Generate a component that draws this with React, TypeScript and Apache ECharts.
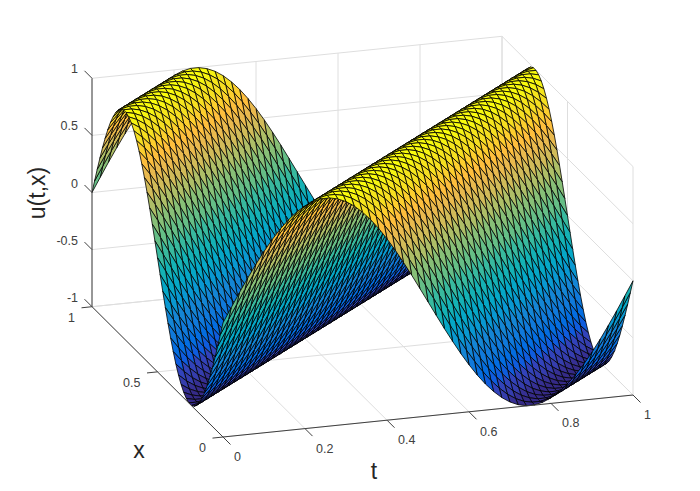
import React, { useEffect, useRef } from "react";
import * as echarts from "echarts";

// One period of the surface height, read along the diagonal of the mesh (one value per mesh step of t - x).
const waveProfile = [
  0, 0.125, 0.249, 0.368, 0.482, 0.588, 0.685, 0.771, 0.844, 0.905,
  0.951, 0.982, 0.998, 0.998, 0.982, 0.951, 0.905, 0.844, 0.771, 0.685,
  0.588, 0.482, 0.368, 0.249, 0.125,
  0, -0.125, -0.249, -0.368, -0.482, -0.588, -0.685, -0.771, -0.844, -0.905,
  -0.951, -0.982, -0.998, -0.998, -0.982, -0.951, -0.905, -0.844, -0.771, -0.685,
  -0.588, -0.482, -0.368, -0.249, -0.125,
];
const tTicks = [0, 0.2, 0.4, 0.6, 0.8, 1];
const xTicks = [0, 0.5, 1];
const uTicks = [-1, -0.5, 0, 0.5, 1];
const tTickLabels = ["0", "0.2", "0.4", "0.6", "0.8", "1"];
const xTickLabels = ["0", "0.5", "1"];
const uTickLabels = ["-1", "-0.5", "0", "0.5", "1"];

const parula = [
  [0.2081,0.1663,0.5292],[0.2116,0.1898,0.5777],[0.2123,0.2138,0.627],[0.2081,0.2386,0.6771],
  [0.1959,0.2645,0.7279],[0.1707,0.2919,0.7792],[0.1253,0.3242,0.8303],[0.0591,0.3598,0.8683],
  [0.0117,0.3875,0.882],[0.006,0.4086,0.8828],[0.0165,0.4266,0.8786],[0.0329,0.443,0.872],
  [0.0498,0.4586,0.8641],[0.0629,0.4737,0.8554],[0.0723,0.4887,0.8467],[0.0779,0.504,0.8384],
  [0.0793,0.52,0.8312],[0.0749,0.5375,0.8263],[0.0641,0.557,0.824],[0.0488,0.5772,0.8228],
  [0.0343,0.5966,0.8199],[0.0265,0.6137,0.8135],[0.0239,0.6287,0.8038],[0.0231,0.6418,0.7913],
  [0.0228,0.6535,0.7768],[0.0267,0.6642,0.7607],[0.0384,0.6743,0.7436],[0.059,0.6838,0.7254],
  [0.0843,0.6928,0.7062],[0.1133,0.7015,0.6859],[0.1453,0.7098,0.6646],[0.1801,0.7177,0.6424],
  [0.2178,0.725,0.6193],[0.2586,0.7317,0.5954],[0.3022,0.7376,0.5712],[0.3482,0.7424,0.5473],
  [0.3953,0.7459,0.5244],[0.442,0.7481,0.5033],[0.4871,0.7491,0.484],[0.53,0.7491,0.4661],
  [0.5709,0.7485,0.4494],[0.6099,0.7473,0.4337],[0.6473,0.7456,0.4188],[0.6834,0.7435,0.4044],
  [0.7184,0.7411,0.3905],[0.7525,0.7384,0.3768],[0.7858,0.7356,0.3633],[0.8185,0.7327,0.3498],
  [0.8507,0.7299,0.336],[0.8824,0.7274,0.3217],[0.9139,0.7258,0.3063],[0.945,0.7261,0.2886],
  [0.9739,0.7314,0.2666],[0.9938,0.7455,0.2403],[0.999,0.7653,0.2164],[0.9955,0.7861,0.1967],
  [0.988,0.8066,0.1794],[0.9789,0.8271,0.1633],[0.9697,0.8481,0.1475],[0.9626,0.8705,0.1309],
  [0.9589,0.8949,0.1132],[0.9598,0.9218,0.0948],[0.9661,0.9514,0.0755],[0.9763,0.9831,0.0538],
];

const N = waveProfile.length;
const heightAt = (i: number, j: number) => waveProfile[(((i - j) % N) + N) % N];
const colorOf = (u: number) => {
  const k = Math.min(63, Math.max(0, Math.floor(((u + 1) / 2) * 64)));
  const c = parula[k];
  return `rgb(${Math.round(c[0] * 255)},${Math.round(c[1] * 255)},${Math.round(c[2] * 255)})`;
};

// Orthographic view of the plot box: t, x and u onto the page.
const project = (t: number, x: number, u: number): [number, number] => [
  223 + 410 * t - 131 * x,
  437 - 42 * t - 130.3 * x - (u + 1) * 114.2,
];

const GRID_COLOR = "#dedede";
const AXIS_COLOR = "#404040";
const TEXT_COLOR = "#404040";
const FONT = '"Liberation Sans", Arial, sans-serif';

type Seg = [number, number, number, number, number, number];

const gridSegs: Seg[] = [];
tTicks.forEach((t) => {
  gridSegs.push([t, 0, -1, t, 1, -1]);
  gridSegs.push([t, 1, -1, t, 1, 1]);
});
xTicks.forEach((x) => {
  gridSegs.push([0, x, -1, 1, x, -1]);
  gridSegs.push([1, x, -1, 1, x, 1]);
});
uTicks.forEach((u) => {
  gridSegs.push([0, 1, u, 1, 1, u]);
  gridSegs.push([1, 1, u, 1, 0, u]);
});

const surfaceCells: [number, number][] = [];
for (let j = N - 1; j >= 0; j--) {
  for (let i = N - 1; i >= 0; i--) surfaceCells.push([i, j]);
}

type Lab = { text: string; at: [number, number]; dx: number; dy: number; align: string };
const tickLines: number[][] = [];
const tickTexts: Lab[] = [];
tTicks.forEach((t, k) => {
  const p = project(t, 0, -1);
  tickLines.push([p[0], p[1], p[0] + 7.5, p[1] + 7.5]);
  tickTexts.push({ text: tTickLabels[k], at: p, dx: 11, dy: 20, align: "left" });
});
xTicks.forEach((x, k) => {
  const p = project(0, x, -1);
  tickLines.push([p[0], p[1], p[0] - 10.5, p[1] + 1.1]);
  tickTexts.push({ text: xTickLabels[k], at: p, dx: -17, dy: 11, align: "right" });
});
uTicks.forEach((u, k) => {
  const p = project(0, 1, u);
  tickLines.push([p[0], p[1], p[0] - 7.5, p[1] - 7.5]);
  tickTexts.push({ text: uTickLabels[k], at: p, dx: -14, dy: -9, align: "right" });
});
const axisSegs: Seg[] = [
  [0, 0, -1, 1, 0, -1],
  [0, 0, -1, 0, 1, -1],
  [0, 1, -1, 0, 1, 1],
];

export default function App() {
  const ref = useRef<HTMLDivElement>(null);
  useEffect(() => {
    const chart = echarts.init(ref.current!, null, { renderer: "svg" });
    const segItem = (color: string, width: number) => (_: any, api: any) => {
      const a = api.coord(project(api.value(0), api.value(1), api.value(2)));
      const b = api.coord(project(api.value(3), api.value(4), api.value(5)));
      return {
        type: "line",
        shape: { x1: a[0], y1: a[1], x2: b[0], y2: b[1] },
        style: { stroke: color, lineWidth: width, fill: "none" },
        silent: true,
      };
    };
    chart.setOption({
      animation: false,
      backgroundColor: "#ffffff",
      grid: { left: 0, right: 0, top: 0, bottom: 0 },
      xAxis: { type: "value", min: 0, max: 700, show: false },
      yAxis: { type: "value", min: 0, max: 491, inverse: true, show: false },
      graphic: [
        { type: "text", x: 139, y: 450, style: { text: "x", font: `23px ${FONT}`, fill: "#262626", align: "center", verticalAlign: "middle" } },
        { type: "text", x: 374, y: 471, style: { text: "t", font: `23px ${FONT}`, fill: "#262626", align: "center", verticalAlign: "middle" } },
        { type: "text", x: 37, y: 193, rotation: Math.PI / 2, style: { text: "u(t,x)", font: `23px ${FONT}`, fill: "#262626", align: "center", verticalAlign: "middle" } },
      ],
      series: [
        {
          type: "custom", coordinateSystem: "cartesian2d", z: 1, silent: true, clip: false,
          data: gridSegs, renderItem: segItem(GRID_COLOR, 1),
        },
        {
          type: "custom", coordinateSystem: "cartesian2d", z: 2, silent: true, clip: false,
          progressive: 0,
          data: surfaceCells,
          renderItem: (_: any, api: any) => {
            const i = api.value(0);
            const j = api.value(1);
            const corner = (a: number, b: number) => api.coord(project(a / N, b / N, heightAt(a, b)));
            return {
              type: "polygon",
              shape: { points: [corner(i, j), corner(i + 1, j), corner(i + 1, j + 1), corner(i, j + 1)] },
              style: { fill: colorOf(heightAt(i, j)), stroke: "#000000", lineWidth: 0.8, lineJoin: "round" },
              silent: true,
            };
          },
        },
        {
          type: "custom", coordinateSystem: "cartesian2d", z: 3, silent: true, clip: false,
          data: axisSegs, renderItem: segItem(AXIS_COLOR, 1),
        },
        {
          type: "custom", coordinateSystem: "cartesian2d", z: 3, silent: true, clip: false,
          data: tickLines,
          renderItem: (_: any, api: any) => {
            const a = api.coord([api.value(0), api.value(1)]);
            const b = api.coord([api.value(2), api.value(3)]);
            return { type: "line", shape: { x1: a[0], y1: a[1], x2: b[0], y2: b[1] }, style: { stroke: AXIS_COLOR, lineWidth: 1 }, silent: true };
          },
        },
        {
          type: "custom", coordinateSystem: "cartesian2d", z: 4, silent: true, clip: false,
          data: tickTexts.map((l) => ({ value: [l.at[0] + l.dx, l.at[1] + l.dy], label: l })),
          renderItem: (p: any, api: any) => {
            const l = tickTexts[p.dataIndex];
            const a = api.coord([api.value(0), api.value(1)]);
            return {
              type: "text", x: a[0], y: a[1],
              style: { text: l.text, font: `12.5px ${FONT}`, fill: TEXT_COLOR, align: l.align, verticalAlign: "middle" },
              silent: true,
            };
          },
        },
      ],
    });
    return () => chart.dispose();
  }, []);
  return <div ref={ref} style={{ position: "fixed", left: 0, top: 0, width: 700, height: 491 }} />;
}
